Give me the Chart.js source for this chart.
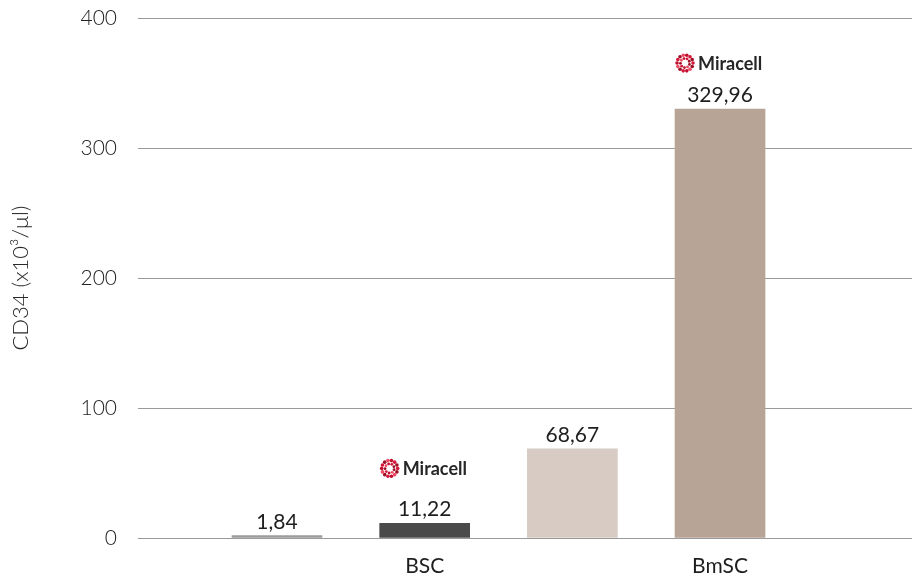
<!DOCTYPE html>
<html>
<head>
<meta charset="utf-8">
<script src="https://cdn.jsdelivr.net/npm/chart.js@4/dist/chart.umd.min.js"></script>
<style>
  html, body { margin: 0; padding: 0; background: #fff; }
  #wrap { width: 913px; height: 575px; }
</style>
</head>
<body>
<div id="wrap"><canvas id="c"></canvas></div>
<script>
// ---- data ----
const barValues = [1.84, 11.22, 68.67, 329.96];
const barLabels = ['1,84', '11,22', '68,67', '329,96'];
const xTickLabels = ['', 'BSC', '', 'BmSC'];
const hasLogo = [false, true, false, true];
const yTicks = [0, 100, 200, 300, 400];
const yTitle = 'CD34 (x10³/μl)';
const logoText = 'Miracell';

const barColors = ['#9b9b9b', '#4a4a4a', '#d8cbc3', '#b7a496'];
const logoOffsets = [0, 55, 0, 46];

const points = barValues.map((v, i) => ({ x: i + 1, y: v }));

function drawLogo(ctx, cx, cy) {
  const ix = cx - 35, iy = cy;
  const reds = ['#d6163a', '#9c0f24', '#ef4a63', '#c0102e'];
  for (let k = 0; k < 14; k++) {
    const a = k / 14 * Math.PI * 2;
    ctx.fillStyle = reds[k % 4];
    ctx.beginPath();
    ctx.arc(ix + Math.cos(a) * 8, iy + Math.sin(a) * 8, 1.8, 0, Math.PI * 2);
    ctx.fill();
  }
  for (let k = 0; k < 9; k++) {
    const a = k / 9 * Math.PI * 2 + 0.3;
    ctx.fillStyle = reds[(k + 1) % 4];
    ctx.beginPath();
    ctx.arc(ix + Math.cos(a) * 4.6, iy + Math.sin(a) * 4.6, 1.4, 0, Math.PI * 2);
    ctx.fill();
  }
  ctx.fillStyle = '#262626';
  ctx.font = 'bold 18px Lato';
  ctx.textAlign = 'left';
  ctx.textBaseline = 'middle';
  ctx.fillText(logoText, ix + 13, iy + 1);
}

const labelPlugin = {
  id: 'barLabels',
  afterDatasetsDraw(chart) {
    const ctx = chart.ctx;
    const meta = chart.getDatasetMeta(0);
    ctx.save();
    meta.data.forEach((bar, i) => {
      ctx.fillStyle = '#1e1e1e';
      ctx.font = '21px Lato';
      ctx.textAlign = 'center';
      ctx.textBaseline = 'alphabetic';
      ctx.fillText(barLabels[i], bar.x, bar.y - 7);
      if (hasLogo[i]) drawLogo(ctx, bar.x, bar.y - logoOffsets[i]);
    });
    ctx.restore();
  }
};

new Chart(document.getElementById('c'), {
  type: 'bar',
  data: {
    datasets: [{
      data: points,
      backgroundColor: barColors,
      barThickness: 90,
      borderWidth: 0
    }]
  },
  plugins: [labelPlugin],
  options: {
    responsive: true,
    maintainAspectRatio: false,
    animation: false,
    layout: { padding: { top: 18, right: 1, left: 0, bottom: 0 } },
    plugins: { legend: { display: false }, tooltip: { enabled: false } },
    scales: {
      x: {
        type: 'linear',
        offset: false,
        min: 0.0587,
        max: 5.3,
        grid: { display: false },
        border: { display: false },
        afterBuildTicks(scale) {
          scale.ticks = xTickLabels.map((l, i) => ({ value: i + 1 })).filter((t, i) => xTickLabels[i] !== '');
        },
        ticks: {
          autoSkip: false,
          maxRotation: 0,
          padding: 8,
          color: '#1e1e1e',
          font: { family: 'Lato', size: 21 },
          callback: (v) => xTickLabels[Math.round(v) - 1]
        },
        afterFit(scale) { scale.height = 37; scale.paddingTop = 0; scale.paddingBottom = 0; }
      },
      y: {
        min: 0,
        max: 400,
        afterBuildTicks(scale) { scale.ticks = yTicks.map(v => ({ value: v })); },
        grid: { color: '#9a9a9a', lineWidth: 1, drawTicks: false },
        border: { display: false },
        ticks: {
          padding: 21,
          color: '#222222',
          font: { family: 'Lato', size: 21, weight: '300' }
        },
        title: {
          display: true,
          text: yTitle,
          color: '#2a2a2a',
          font: { family: 'Lato', size: 22, weight: '300' },
          padding: { top: 8, bottom: 0 }
        },
        afterFit(scale) { scale.width = 138; scale.paddingTop = 0; scale.paddingBottom = 0; }
      }
    }
  }
});
</script>
</body>
</html>
